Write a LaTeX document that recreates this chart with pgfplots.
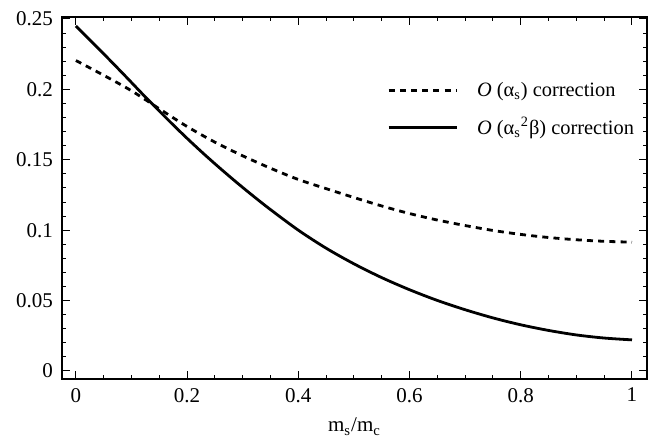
\documentclass[border=0pt]{standalone}
\usepackage{fontspec}
\setmainfont{Liberation Serif}
\usepackage{pgfplots}
\pgfplotsset{compat=1.18}
\begin{document}
\begin{tikzpicture}
\useasboundingbox (-31pt,-34pt) rectangle (298pt,189.5pt);
\begin{axis}[
  at={(0pt,0pt)}, anchor=south west,
  scale only axis,
  width=292.5pt, height=181pt,
  xmin=-0.025, xmax=1.027,
  ymin=-0.0057, ymax=0.2514,
  axis line style={line width=0.6pt},
  xtick={0,0.2,0.4,0.6,0.8,1},
  xticklabels={0,0.2,0.4,0.6,0.8,1},
  ytick={0,0.05,0.1,0.15,0.2,0.25},
  yticklabels={0,0.05,0.1,0.15,0.2,0.25},
  minor xtick={0.05,0.1,0.15,0.25,0.3,0.35,0.45,0.5,0.55,0.65,0.7,0.75,0.85,0.9,0.95},
  minor ytick={0.01,0.02,0.03,0.04,0.06,0.07,0.08,0.09,0.11,0.12,0.13,0.14,0.16,0.17,0.18,0.19,0.21,0.22,0.23,0.24},
  tick align=inside,
  major tick length=4pt,
  minor tick length=2pt,
  tick style={black, line width=0.5pt},
  ticklabel style={font=\fontsize{10.5}{12}\selectfont},
  xticklabel style={yshift=-1pt},
  yticklabel style={xshift=-1pt},
  xlabel={m\textsubscript{s}/m\textsubscript{c}},
  xlabel style={font=\fontsize{10.5}{12}\selectfont, yshift=-1pt},
  legend style={draw=none, fill=none, at={(rel axis cs:0.545,0.843)}, anchor=north west,
    font=\fontsize{10.2}{12}\selectfont, row sep=5pt, cells={anchor=west}},
  legend image code/.code={\draw[#1] (0pt,0pt) -- (34pt,0pt); \path (41.5pt,0pt);},
  legend cell align=left,
]
\addplot[black, line width=1.4pt, dash pattern=on 3pt off 2.6pt, smooth] coordinates {
(0.00,0.2205) (0.05,0.2100) (0.10,0.1990) (0.15,0.1862) (0.20,0.1736)
(0.25,0.1625) (0.30,0.1528) (0.35,0.1440) (0.40,0.1360) (0.45,0.1295)
(0.50,0.1232) (0.55,0.1172) (0.60,0.1118) (0.65,0.1072) (0.70,0.1033)
(0.75,0.0998) (0.80,0.0970) (0.85,0.0948) (0.90,0.0932) (0.95,0.0921) (1.00,0.0915)
};
\addlegendentry{\textit{O} (α\textsubscript{s}) correction}
\addplot[black, line width=1.4pt, smooth] coordinates {
(0.00,0.2450) (0.03,0.2332) (0.06,0.2212) (0.09,0.2090) (0.12,0.1966)
(0.14,0.1886) (0.17,0.1767) (0.20,0.1652) (0.23,0.1542) (0.26,0.1437)
(0.29,0.1336) (0.32,0.1239) (0.35,0.1146) (0.40,0.1000) (0.45,0.0872)
(0.50,0.0761) (0.55,0.0663) (0.60,0.0577) (0.65,0.0501) (0.70,0.0435)
(0.75,0.0377) (0.80,0.0328) (0.85,0.0288) (0.90,0.0256) (0.95,0.0234)
(1.00,0.0221)
};
\addlegendentry{\textit{O} (α\textsubscript{s}\textsuperscript{2}β) correction}
\end{axis}
\end{tikzpicture}
\end{document}
